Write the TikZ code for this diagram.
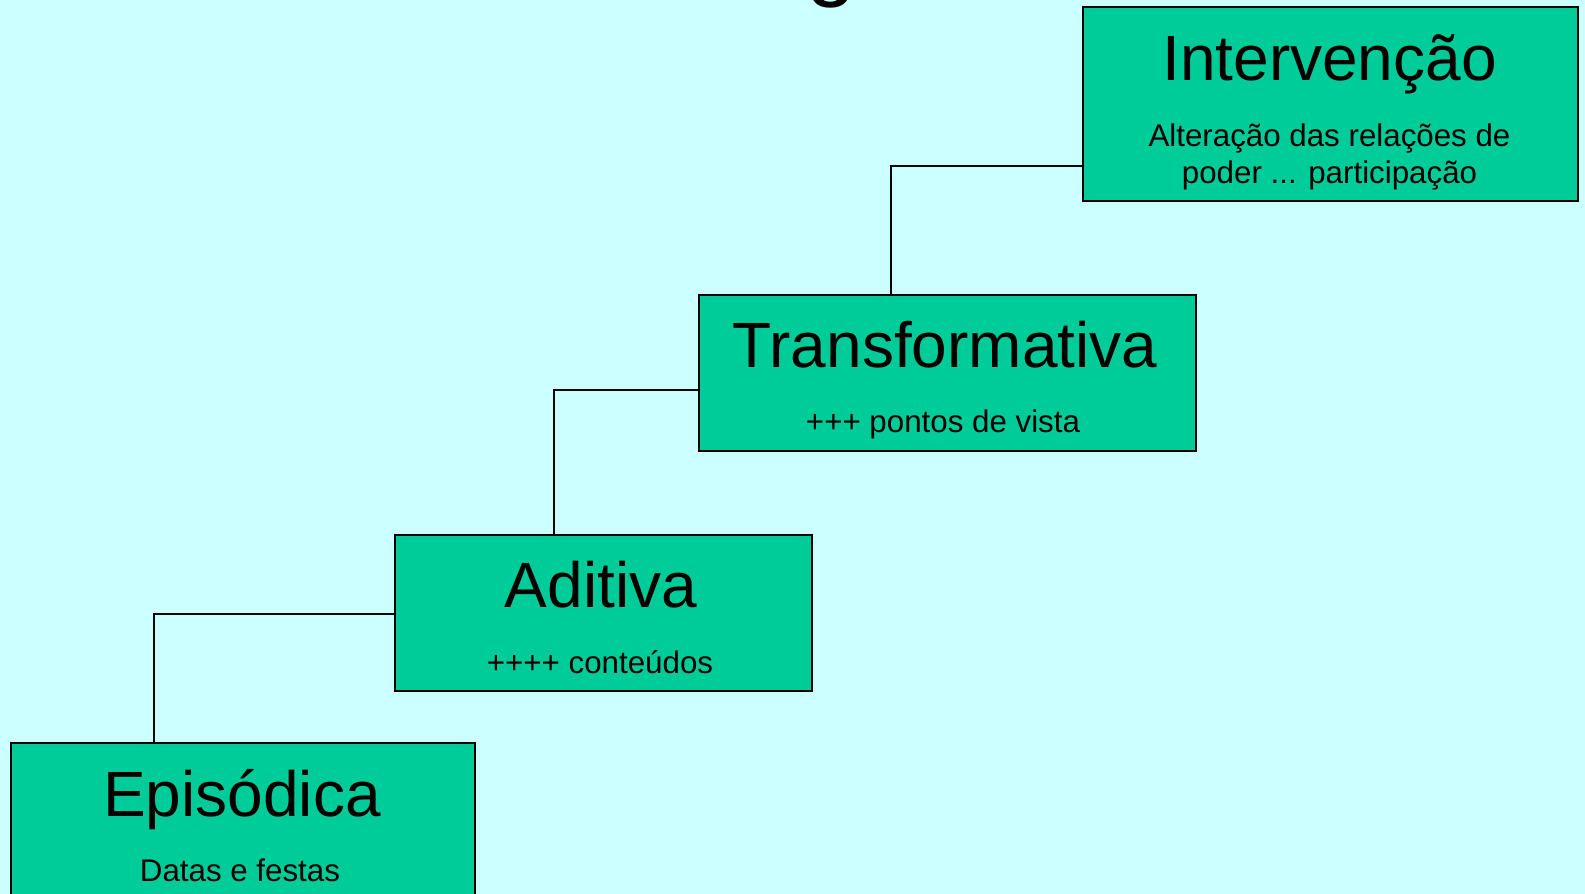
\documentclass[tikz,border=0pt]{standalone}
\usepackage{fontspec}
\setmainfont{Liberation Sans}
\definecolor{bg}{HTML}{CCFFFF}
\definecolor{boxfill}{HTML}{00CC99}
\begin{document}
\begin{tikzpicture}[x=1pt,y=-1pt,
  box/.style={draw=black, line width=1.6pt, fill=boxfill, rectangle, inner sep=0, anchor=north west},
  conn/.style={draw=black, line width=1.6pt},
  ttl/.style={font=\fontsize{64}{70}\selectfont, anchor=base, inner sep=0},
  sub/.style={font=\fontsize{31.3}{38}\selectfont, anchor=base, inner sep=0}]
\path[fill=bg] (0,0) rectangle (1585,894);
\useasboundingbox (0,0) rectangle (1585,894);
% partial title glyph
\node[font=\fontsize{90}{90}\selectfont, anchor=base, inner sep=0] (tg) at (832,-10) {g};
% boxes
\node[box, minimum width=495pt, minimum height=194pt] (int) at (1082,6) {};
\node[box, minimum width=497pt, minimum height=156pt] (tra) at (698,294) {};
\node[box, minimum width=417pt, minimum height=156pt] (adi) at (394,534) {};
\node[box, minimum width=464pt, minimum height=170pt] (epi) at (10,742) {};
% connectors
\coordinate (j1) at (891,166);
\coordinate (j2) at (554,390);
\coordinate (j3) at (154,614);
\draw[conn] (int.west |- j1) -| (tra.north -| j1);
\draw[conn] (tra.west |- j2) -| (adi.north -| j2);
\draw[conn] (adi.west |- j3) -| (epi.north -| j3);
% texts
\node[ttl] (intT) at (1329.5,80) {Intervenção};
\node[sub] (intS1) at (1329.5,146) {Alteração das relações de};
\node[sub] (intS2) at (1329.5,183) {poder ... participação};
\node[ttl] (traT) at (945,367) {Transformativa};
\node[sub] (traS) at (943,432) {+++ pontos de vista};
\node[ttl] (adiT) at (601,607) {Aditiva};
\node[sub] (adiS) at (600,673) {++++ conteúdos};
\node[ttl] (epiT) at (242,816) {Episódica};
\node[sub] (epiS) at (240,881) {Datas e festas};
\end{tikzpicture}
\end{document}
